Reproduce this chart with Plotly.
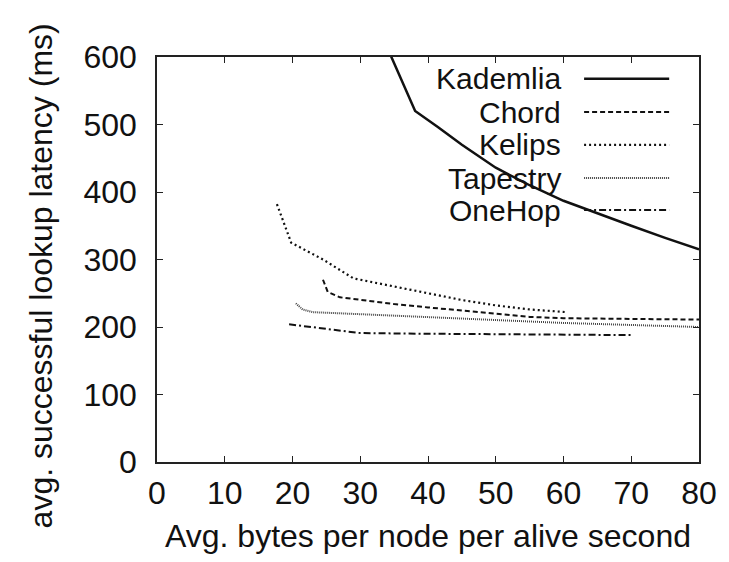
import plotly.graph_objects as go

# ---- data ----
kad_x = [33.5, 38.1, 41.5, 45, 50, 55, 60, 65, 70, 75, 80]
kad_y = [625, 520, 496, 470, 436, 410, 387, 368, 350, 332, 315]

chord_x = [24.5, 25.2, 27, 30, 35, 40, 45, 50, 55, 60, 70, 80]
chord_y = [270, 252, 244, 240, 234, 229, 224, 219, 215, 213, 212, 211]

kelips_x = [17.7, 19.8, 24.5, 29, 35, 41, 45, 50, 55, 60.5]
kelips_y = [382, 325, 300, 272, 260, 248, 240, 232, 226, 222]

tap_x = [20.5, 21.5, 23, 30, 40, 50, 60, 70, 80]
tap_y = [235, 226, 222, 219, 214, 210, 206, 203, 200]

onehop_x = [19.5, 25, 30, 40, 50, 60, 70]
onehop_y = [204, 197, 191, 190, 189, 188, 188]

names = ["Kademlia", "Chord", "Kelips", "Tapestry", "OneHop"]
xs = [kad_x, chord_x, kelips_x, tap_x, onehop_x]
ys = [kad_y, chord_y, kelips_y, tap_y, onehop_y]

x_ticks = [0, 10, 20, 30, 40, 50, 60, 70, 80]
y_ticks = [0, 100, 200, 300, 400, 500, 600]

x_title = "Avg. bytes per node per alive second"
y_title = "avg. successful lookup latency (ms)"

# ---- styles ----
dashes = ["solid", "5px,3px", "2px,3px", "1px,1px", "7px,3px,2px,3px"]
widths = [2.5, 2.0, 2.2, 2.0, 2.0]
colors = ["#111", "#111", "#111", "#444", "#111"]
FONT = "Liberation Sans, Arial, Helvetica, sans-serif"
FS = 32

fig = go.Figure()
for n, x, y, d, w, c in zip(names, xs, ys, dashes, widths, colors):
    fig.add_trace(go.Scatter(x=x, y=y, mode="lines", name=n,
                             line=dict(color=c, width=w, dash=d),
                             showlegend=False, cliponaxis=True))

# manual gnuplot-style legend (text right-aligned, sample on the right)
leg_y = [0.946, 0.864, 0.783, 0.701, 0.622]
for n, ly, d, w, c in zip(names, leg_y, dashes, widths, colors):
    fig.add_annotation(x=0.748, y=ly, xref="paper", yref="paper", text=n,
                       showarrow=False, xanchor="right", yanchor="middle",
                       borderpad=0,
                       font=dict(family=FONT, size=30, color="#111"))
    fig.add_shape(type="line", xref="paper", yref="paper",
                  x0=0.788, x1=0.945, y0=ly, y1=ly,
                  line=dict(color=c, width=w, dash=d))

# y-axis title (placed like the reference)
fig.add_annotation(x=-0.2135, y=0.459, xref="paper", yref="paper", text=y_title,
                   textangle=-90, showarrow=False, xanchor="center", yanchor="middle",
                   font=dict(family=FONT, size=FS, color="#111"))

axis_common = dict(showline=True, linecolor="#222", linewidth=1.5, mirror="ticks",
                   ticks="inside", ticklen=6, tickwidth=1.2, tickcolor="#222",
                   showgrid=False, zeroline=False,
                   tickfont=dict(family=FONT, size=FS, color="#111"))

fig.update_xaxes(range=[0, 80], tickvals=x_ticks, ticklabelstandoff=2,
                 title=dict(text=x_title,
                            font=dict(family=FONT, size=FS, color="#111"), standoff=14),
                 **axis_common)
fig.update_yaxes(range=[0, 600], tickvals=y_ticks, ticklabelstandoff=12,
                 **axis_common)

fig.update_layout(width=729, height=562, paper_bgcolor="white", plot_bgcolor="white",
                  margin=dict(l=157, r=24, t=57, b=100))

fig.write_html("out.html")
